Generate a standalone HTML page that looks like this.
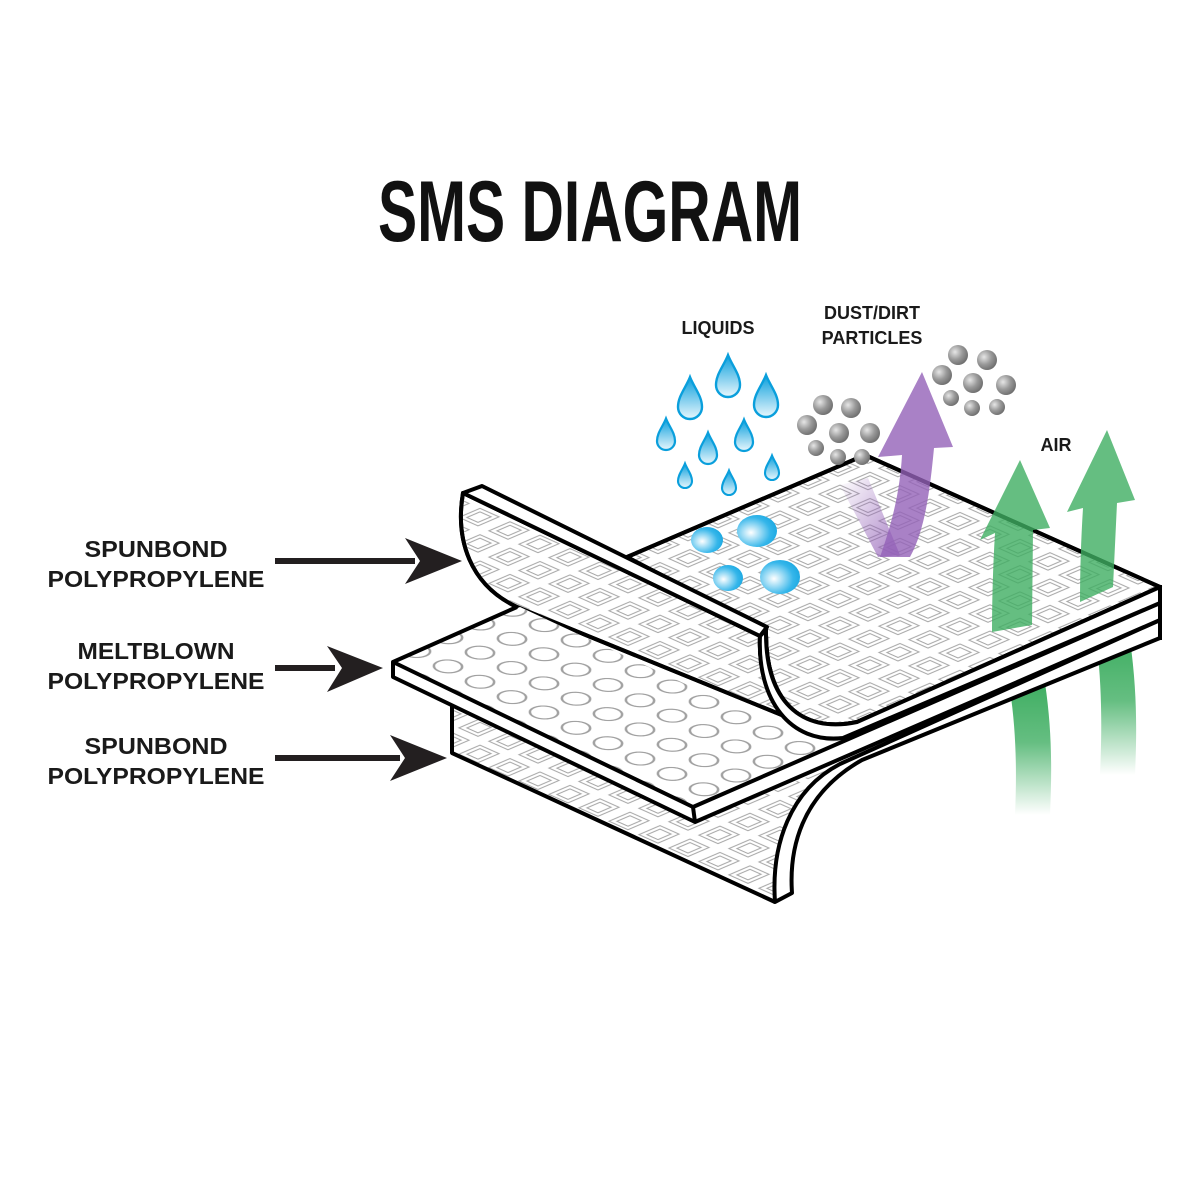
<!DOCTYPE html>
<html><head><meta charset="utf-8"><style>
html,body{margin:0;padding:0;background:#fff;}
svg{display:block;}
</style></head><body>
<svg width="1200" height="1200" viewBox="0 0 1200 1200" xmlns="http://www.w3.org/2000/svg">
<defs>
<pattern id="sq" width="30" height="30" patternUnits="userSpaceOnUse" patternTransform="matrix(1,-0.43,1,0.447,0,0)">
<rect x="4" y="5" width="21" height="19" fill="none" stroke="#a8a8a8" stroke-width="1.3"/>
<rect x="8" y="9" width="13" height="11" fill="none" stroke="#a8a8a8" stroke-width="1.3"/>
</pattern>
<pattern id="ov" width="32" height="32" patternUnits="userSpaceOnUse" patternTransform="matrix(1,-0.43,1,0.48,0,0)">
<circle cx="16" cy="16" r="10" fill="none" stroke="#a0a0a0" stroke-width="1.8"/>
</pattern>
<radialGradient id="gb" cx="0.35" cy="0.55" r="0.8">
<stop offset="0" stop-color="#ffffff"/><stop offset="0.6" stop-color="#35b6ea"/><stop offset="1" stop-color="#0a9fdc"/>
</radialGradient>
<linearGradient id="gd" x1="0" y1="0" x2="0" y2="1">
<stop offset="0" stop-color="#0a9fdc"/><stop offset="1" stop-color="#e8f7fd"/>
</linearGradient>
<radialGradient id="gp" cx="0.35" cy="0.35" r="0.75">
<stop offset="0" stop-color="#e6e6e6"/><stop offset="0.5" stop-color="#9a9a9a"/><stop offset="1" stop-color="#666"/>
</radialGradient>
<linearGradient id="gf" x1="0" y1="0" x2="0" y2="1">
<stop offset="0" stop-color="#3fae62"/><stop offset="0.45" stop-color="#3fae62" stop-opacity="0.8"/><stop offset="1" stop-color="#3fae62" stop-opacity="0"/>
</linearGradient>
<linearGradient id="gpl" x1="1" y1="1" x2="0" y2="0">
<stop offset="0" stop-color="#9462b8" stop-opacity="0.8"/><stop offset="1" stop-color="#9462b8" stop-opacity="0"/>
</linearGradient>
<path id="drop" d="M0,-2.5 C0.35,-1.6 1,-0.9 1,0 A1,1 0 0 1 -1,0 C-1,-0.9 -0.35,-1.6 0,-2.5Z"/>
</defs>

<text x="378" y="241" font-family="'Liberation Sans Narrow','Liberation Sans',sans-serif" font-weight="bold" font-size="86" textLength="424" lengthAdjust="spacingAndGlyphs" fill="#111">SMS DIAGRAM</text>

<g font-family="'Liberation Sans',sans-serif" font-weight="bold" fill="#1a1a1a" text-anchor="middle">
<text x="156" y="557" font-size="23" textLength="143" lengthAdjust="spacingAndGlyphs">SPUNBOND</text>
<text x="156" y="587" font-size="23" textLength="217" lengthAdjust="spacingAndGlyphs">POLYPROPYLENE</text>
<text x="156" y="659" font-size="23" textLength="157" lengthAdjust="spacingAndGlyphs">MELTBLOWN</text>
<text x="156" y="689" font-size="23" textLength="217" lengthAdjust="spacingAndGlyphs">POLYPROPYLENE</text>
<text x="156" y="754" font-size="23" textLength="143" lengthAdjust="spacingAndGlyphs">SPUNBOND</text>
<text x="156" y="784" font-size="23" textLength="217" lengthAdjust="spacingAndGlyphs">POLYPROPYLENE</text>
<text x="718" y="334" font-size="18">LIQUIDS</text>
<text x="872" y="319" font-size="18">DUST/DIRT</text>
<text x="872" y="344" font-size="18">PARTICLES</text>
<text x="1056" y="451" font-size="18">AIR</text>
</g>

<g fill="#231f20" stroke="none">
<rect x="275" y="558" width="140" height="6"/>
<path d="M462,561 L405,538 L420,561 L405,584Z"/>
<rect x="275" y="665" width="60" height="6"/>
<path d="M383,668 L327,646 L342,668 L327,692Z"/>
<rect x="275" y="755" width="125" height="6"/>
<path d="M447,758 L390,735 L405,758 L390,781Z"/>
</g>

<path d="M1010,690 L1045,683 C1052,730 1052,770 1050,815 L1015,815 C1017,770 1016,730 1010,690Z" fill="url(#gf)"/>
<path d="M1097,645 L1130,640 C1137,690 1137,730 1135,775 L1100,775 C1102,730 1102,690 1097,645Z" fill="url(#gf)"/>

<g stroke="#000" stroke-width="4" stroke-linejoin="round">
<path d="M452,700 L452,753 L775,902 C771,845 790,790 840,764 L695,822 L452,704Z" fill="url(#sq)" stroke="none"/>
<path d="M452,706 L452,753 L775,902" fill="none"/>
<path d="M775,902 L792,893 C789,850 800,795 862,760 L1160,638 L1160,620 L840,764 C790,790 771,845 775,902Z" fill="#fff"/>
<path d="M463,493 L760,636 C758,680 775,725 820,737 L843,740 L517,607 C470,585 455,540 463,493Z" fill="#fff"/>
<path d="M463,493 L760,636 C758,680 775,725 820,737 L843,740 L517,607 C470,585 455,540 463,493Z" fill="url(#sq)"/>
<path d="M393,662 L520,607 L780,728 L845,740 L693,807Z" fill="#fff" stroke="none"/>
<path d="M393,662 L520,607 L780,728 L845,740 L693,807Z" fill="url(#ov)" stroke="none"/>
<path d="M393,662 L517,607" fill="none"/>
<path d="M393,662 L693,807 L1160,603 L1160,620 L695,822 L393,677Z" fill="#fff"/>
<path d="M693,807 L695,822" fill="none"/>
<path d="M627,557 L865,455 L1160,587 L857,722 C800,734 765,700 766,630Z" fill="#fff"/>
<path d="M627,557 L865,455 L1160,587 L857,722 C800,734 765,700 766,630Z" fill="url(#sq)"/>
<path d="M766,630 C765,700 800,734 857,722 L1160,587 L1160,603 L843,738 C790,744 757,700 760,636Z" fill="#fff"/>
<path d="M463,493 L482,486 L767,627 L760,636Z" fill="#fff"/>
<path d="M1160,585 L1160,640" fill="none"/>
</g>

<g fill="url(#gb)">
<ellipse cx="707" cy="540" rx="16" ry="13"/>
<ellipse cx="757" cy="531" rx="20" ry="16"/>
<ellipse cx="728" cy="578" rx="15" ry="13"/>
<ellipse cx="780" cy="577" rx="20" ry="17"/>
</g>

<g fill="url(#gd)" stroke="#0a9fdc">
<use href="#drop" transform="translate(728,385) scale(12)" stroke-width="0.2"/>
<use href="#drop" transform="translate(690,407) scale(12)" stroke-width="0.2"/>
<use href="#drop" transform="translate(766,405) scale(12)" stroke-width="0.2"/>
<use href="#drop" transform="translate(666,441) scale(9)" stroke-width="0.25"/>
<use href="#drop" transform="translate(708,455) scale(9)" stroke-width="0.25"/>
<use href="#drop" transform="translate(744,442) scale(9)" stroke-width="0.25"/>
<use href="#drop" transform="translate(685,481) scale(7)" stroke-width="0.3"/>
<use href="#drop" transform="translate(729,488) scale(7)" stroke-width="0.3"/>
<use href="#drop" transform="translate(772,473) scale(7)" stroke-width="0.3"/>
</g>

<g fill="url(#gp)">
<circle cx="823" cy="405" r="10"/><circle cx="851" cy="408" r="10"/><circle cx="807" cy="425" r="10"/>
<circle cx="839" cy="433" r="10"/><circle cx="870" cy="433" r="10"/><circle cx="816" cy="448" r="8"/>
<circle cx="838" cy="457" r="8"/><circle cx="862" cy="457" r="8"/>
<circle cx="958" cy="355" r="10"/><circle cx="987" cy="360" r="10"/><circle cx="942" cy="375" r="10"/>
<circle cx="973" cy="383" r="10"/><circle cx="1006" cy="385" r="10"/><circle cx="951" cy="398" r="8"/>
<circle cx="972" cy="408" r="8"/><circle cx="997" cy="407" r="8"/>
</g>

<path d="M840,485 L868,478 L900,555 L878,557Z" fill="url(#gpl)"/>
<path d="M922,372 L953,447 L934,448 C930,490 925,530 910,557 L880,557 C893,520 900,490 902,455 L878,457Z" fill="#9462b8" fill-opacity="0.8"/>

<path d="M1020,460 L1050,528 L1033,530 L1032,625 L992,632 C992,600 993,565 995,533 L980,540Z" fill="#3fae62" fill-opacity="0.8"/>
<path d="M1107,430 L1135,500 L1117,503 L1113,587 L1080,602 C1080,570 1081,540 1083,508 L1067,512Z" fill="#3fae62" fill-opacity="0.8"/>
</svg>
</body></html>
